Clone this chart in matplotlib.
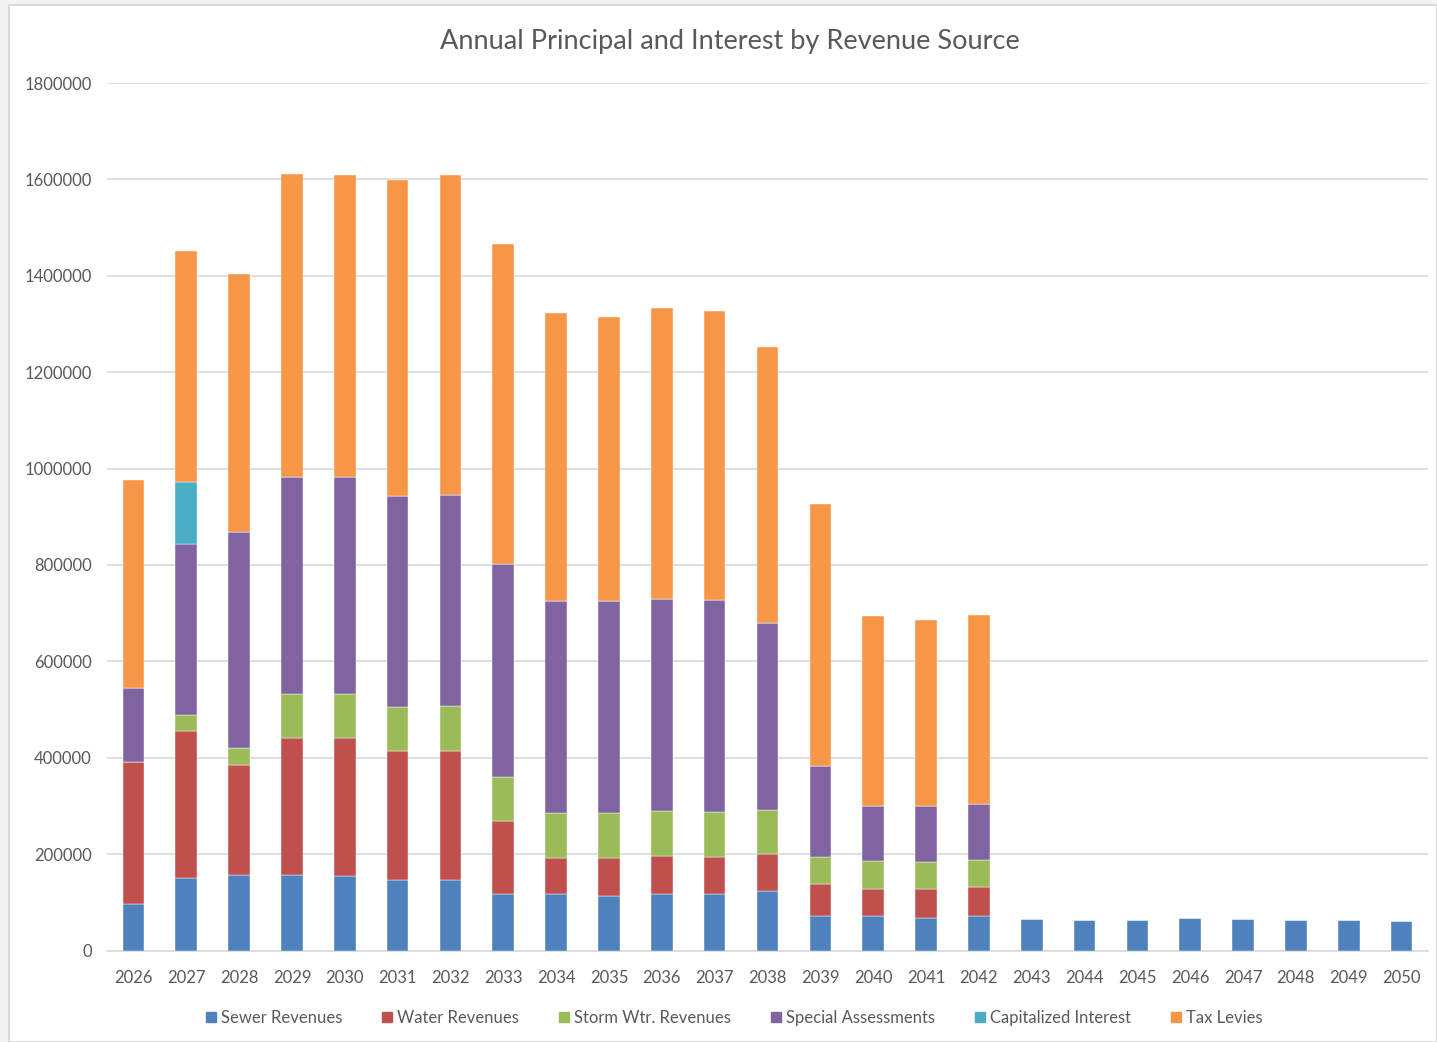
import matplotlib.pyplot as plt
import matplotlib.patches as mpatches
import numpy as np

years = [str(y) for y in range(2026, 2051)]

sewer = [97000, 151000, 156000, 156000, 154000, 146000, 146000, 117000, 117000, 114000,
         118000, 118000, 122500, 72000, 70600, 68000, 72000, 65800, 63700, 63700,
         67900, 65800, 63700, 63700, 61700]
water = [295000, 304500, 228000, 285000, 287000, 267000, 267000, 151000, 75500, 78500,
         79000, 76500, 77000, 65500, 56000, 58700, 59500, 0, 0, 0, 0, 0, 0, 0, 0]
storm = [0, 34000, 35500, 92000, 92000, 93000, 95000, 92500, 92000, 92000,
         92000, 93000, 92000, 57000, 59500, 57500, 57000, 0, 0, 0, 0, 0, 0, 0, 0]
special = [152000, 354000, 448500, 448500, 448500, 437500, 437500, 440500, 440500, 440500,
           440000, 440000, 388000, 187500, 113500, 115500, 115500, 0, 0, 0, 0, 0, 0, 0, 0]
cap_int = [0, 128000, 0, 0, 0, 0, 0, 0, 0, 0, 0, 0, 0, 0, 0, 0, 0, 0, 0, 0, 0, 0, 0, 0, 0]
tax = [433000, 480000, 536500, 629500, 627500, 655000, 663500, 665000, 598000, 590000,
       604000, 600000, 573000, 544000, 394000, 387000, 392000, 0, 0, 0, 0, 0, 0, 0, 0]

series = [
    ("Sewer Revenues", sewer, "#4F81BD"),
    ("Water Revenues", water, "#C0504D"),
    ("Storm Wtr. Revenues", storm, "#9BBB59"),
    ("Special Assessments", special, "#8064A2"),
    ("Capitalized Interest", cap_int, "#4BACC6"),
    ("Tax Levies", tax, "#F79646"),
]

plt.rcParams['font.family'] = ['Lato', 'DejaVu Sans']
txt = "#595959"

fig = plt.figure(figsize=(14.37, 10.42), dpi=100, facecolor="#F3F3F0")
# white chart area with thin grey border
fig.patches.append(mpatches.Rectangle((9 / 1437, 0), 1 - 9 / 1437, 1 - 5 / 1042,
                                      transform=fig.transFigure, facecolor="white",
                                      edgecolor="#D4D4D4", linewidth=1.2, zorder=-10))
ax = fig.add_axes([107 / 1437, 1 - 950.5 / 1042, 1321 / 1437, 867.5 / 1042])
ax.set_zorder(5)
ax.set_facecolor("none")

x = np.arange(len(years))
bottom = np.zeros(len(years))
for name, vals, color in series:
    v = np.array(vals, dtype=float)
    ax.bar(x, v, 0.41, bottom=bottom, color=color, label=name, zorder=3,
           edgecolor="white", linewidth=0.3)
    bottom += v

ax.set_xlim(-0.5, len(years) - 0.5)
ax.set_ylim(0, 1800000)
ax.set_yticks(np.arange(0, 1800001, 200000))
ax.set_yticklabels([str(v) for v in range(0, 1800001, 200000)])
ax.set_xticks(x)
ax.set_xticklabels(years)
ax.yaxis.grid(True, color="#D9D9D9", linewidth=1.2, zorder=0)
ax.set_axisbelow(True)
for s in ["top", "right", "left"]:
    ax.spines[s].set_visible(False)
ax.spines["bottom"].set_color("#D9D9D9")
ax.spines["bottom"].set_linewidth(1.2)
ax.tick_params(axis="both", length=0, colors=txt, labelsize=12)
ax.tick_params(axis="y", pad=11)
ax.tick_params(axis="x", pad=14)

fig.text(0.508, 1 - 41 / 1042, "Annual Principal and Interest by Revenue Source",
         ha="center", va="center", fontsize=19.5, color=txt)

handles = [mpatches.Patch(color=c, label=n) for n, _, c in series]
leg = fig.legend(handles=handles, loc="center", bbox_to_anchor=(0.511, 1 - 1018 / 1042),
                 ncol=6, frameon=False, fontsize=12, handlelength=0.6, handleheight=0.6,
                 handletextpad=0.3, columnspacing=2.4)
for t in leg.get_texts():
    t.set_color(txt)

fig.savefig("out.png", dpi=100, facecolor=fig.get_facecolor())
